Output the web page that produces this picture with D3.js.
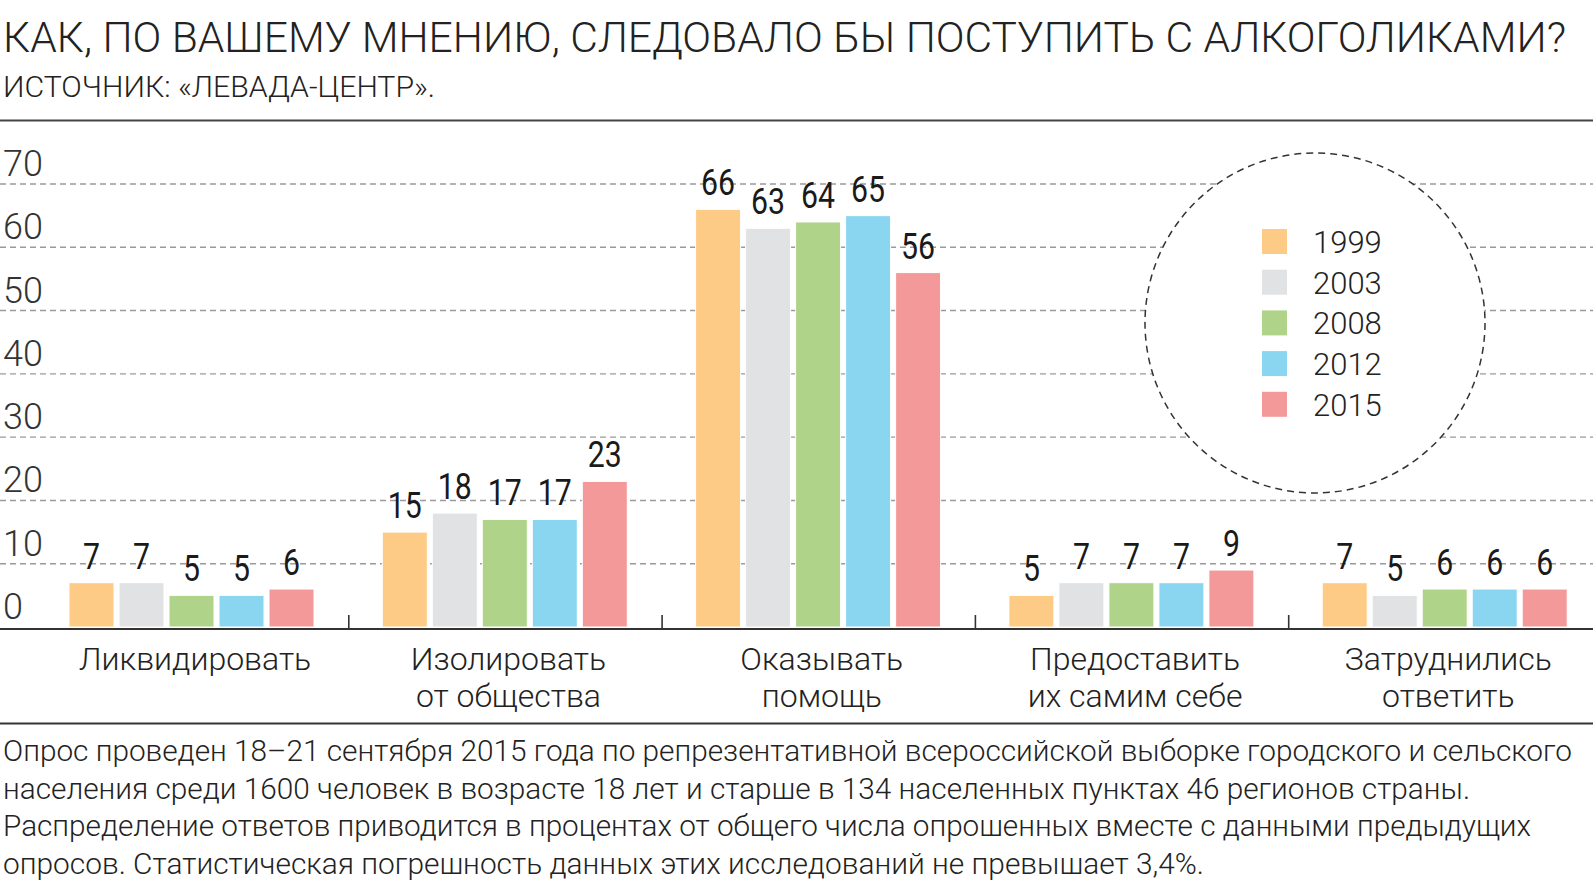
<!DOCTYPE html>
<html>
<head>
<meta charset="utf-8">
<script src="https://cdn.jsdelivr.net/npm/d3@7"></script>
<style>
  html, body { margin: 0; padding: 0; background: #fff; }
  svg { display: block; }
  .light { font-family: "Roboto Light", Roboto, "Noto Sans", sans-serif; font-weight: 300; }
  .num { font-family: "Liberation Sans Narrow", "Roboto", sans-serif; font-weight: 400; }
</style>
</head>
<body>
<svg id="chart" width="1593" height="895"></svg>
<script>
// ---------------- DATA ----------------
const title = "КАК, ПО ВАШЕМУ МНЕНИЮ, СЛЕДОВАЛО БЫ ПОСТУПИТЬ С АЛКОГОЛИКАМИ?";
const subtitle = "ИСТОЧНИК: «ЛЕВАДА-ЦЕНТР».";
const categories = ["Ликвидировать", "Изолировать от общества", "Оказывать помощь", "Предоставить их самим себе", "Затруднились ответить"];
const categoryLines = [["Ликвидировать"], ["Изолировать", "от общества"], ["Оказывать", "помощь"], ["Предоставить", "их самим себе"], ["Затруднились", "ответить"]];
const years = ["1999", "2003", "2008", "2012", "2015"];
const values1999 = [7, 15, 66, 5, 7];
const values2003 = [7, 18, 63, 7, 5];
const values2008 = [5, 17, 64, 7, 6];
const values2012 = [5, 17, 65, 7, 6];
const values2015 = [6, 23, 56, 9, 6];
const yTicks = [0, 10, 20, 30, 40, 50, 60, 70];
const colors = ["#fdcb85", "#e1e2e4", "#afd489", "#8ad6f0", "#f4999a"];
const footnote = [
  "Опрос проведен 18–21 сентября 2015 года по репрезентативной всероссийской выборке городского и сельского",
  "населения среди 1600 человек в возрасте 18 лет и старше в 134 населенных пунктах 46 регионов страны.",
  "Распределение ответов приводится в процентах от общего числа опрошенных вместе с данными предыдущих",
  "опросов. Статистическая погрешность данных этих исследований не превышает 3,4%."
];

const series = [values1999, values2003, values2008, values2012, values2015];

// ---------------- LAYOUT ----------------
const W = 1593, H = 895;
const svg = d3.select("#chart");

function fit(sel, width) {
  sel.each(function () {
    const w = this.getComputedTextLength();
    if (w > 0) d3.select(this).attr("textLength", width).attr("lengthAdjust", "spacingAndGlyphs");
  });
}

// Title & subtitle
svg.append("text").attr("class", "light").attr("x", 3).attr("y", 52)
  .attr("font-size", 42).attr("fill", "#222").text(title).call(fit, 1563);
svg.append("text").attr("class", "light").attr("x", 3).attr("y", 97)
  .attr("font-size", 29).attr("fill", "#222").text(subtitle).call(fit, 432);

svg.append("line").attr("x1", 0).attr("x2", W).attr("y1", 120.5).attr("y2", 120.5)
  .attr("stroke", "#444").attr("stroke-width", 2);

// Scales
const y = d3.scaleLinear().domain([0, 70]).range([627, 184]);
const x0 = d3.scaleBand().domain(categories).range([35.5, 35.5 + 5 * 313.3]).padding(0);
const x1 = d3.scaleBand().domain(years).range([33.5, 278.5]).paddingInner(0.1).paddingOuter(0);
const color = d3.scaleOrdinal().domain(years).range(colors);

// Gridlines
svg.append("g").selectAll("line").data(yTicks.filter(t => t > 0)).join("line")
  .attr("x1", 0).attr("x2", W)
  .attr("y1", d => y(d)).attr("y2", d => y(d))
  .attr("stroke", "#9a9a9a").attr("stroke-width", 1.4).attr("stroke-dasharray", "6,4");

// Y tick labels
svg.append("g").selectAll("text").data(yTicks).join("text")
  .attr("class", "light").attr("x", 3).attr("y", d => y(d) - 8)
  .attr("font-size", 36).attr("fill", "#333").text(d => d);

// Bars
const rows = categories.map((c, i) => ({ cat: c, vals: years.map((yr, j) => ({ year: yr, v: series[j][i] })) }));
const gGroups = svg.append("g").selectAll("g").data(rows).join("g")
  .attr("transform", d => `translate(${x0(d.cat)},0)`);

gGroups.selectAll("rect").data(d => d.vals).join("rect")
  .attr("x", d => x1(d.year)).attr("width", x1.bandwidth())
  .attr("y", d => y(d.v)).attr("height", d => y(0) - y(d.v))
  .attr("fill", d => color(d.year))
  .attr("stroke", "#fff").attr("stroke-width", 1);

gGroups.selectAll("text").data(d => d.vals).join("text")
  .attr("class", "num")
  .attr("x", d => x1(d.year) + x1.bandwidth() / 2)
  .attr("y", d => y(d.v) - 14)
  .attr("text-anchor", "middle").attr("font-size", 37).attr("fill", "#1a1a1a")
  .text(d => d.v)
  .each(function (d) {
    d3.select(this).attr("textLength", String(d.v).length * 17).attr("lengthAdjust", "spacingAndGlyphs");
  });

// Axis line
svg.append("line").attr("x1", 0).attr("x2", W).attr("y1", 629).attr("y2", 629)
  .attr("stroke", "#333").attr("stroke-width", 2);

// Separator ticks between groups
svg.append("g").selectAll("line").data(categories.slice(1)).join("line")
  .attr("x1", d => x0(d)).attr("x2", d => x0(d))
  .attr("y1", 615).attr("y2", 628)
  .attr("stroke", "#333").attr("stroke-width", 1.6);

// Category labels
const catG = svg.append("g").selectAll("text").data(categoryLines).join("text")
  .attr("class", "light").attr("font-size", 32).attr("fill", "#222")
  .attr("text-anchor", "middle")
  .attr("x", (d, i) => x0(categories[i]) + x0.bandwidth() / 2 + 3);
catG.selectAll("tspan").data(d => d).join("tspan")
  .attr("x", function () { return d3.select(this.parentNode).attr("x"); })
  .attr("y", (d, i) => 670 + i * 37)
  .text(d => d);

// Bottom rule
svg.append("line").attr("x1", 0).attr("x2", W).attr("y1", 723.5).attr("y2", 723.5)
  .attr("stroke", "#333").attr("stroke-width", 2);

// Footnote
const fnWidths = [1569, 1467, 1528, 1201];
svg.append("g").selectAll("text").data(footnote).join("text")
  .attr("class", "light").attr("x", 3).attr("y", (d, i) => 761 + i * 37.5)
  .attr("font-size", 29).attr("fill", "#222").text(d => d)
  .each(function (d, i) { d3.select(this).call(fit, fnWidths[i]); });

// Legend circle
svg.append("circle").attr("cx", 1315).attr("cy", 323).attr("r", 170)
  .attr("fill", "#fff").attr("stroke", "#333").attr("stroke-width", 1.5)
  .attr("stroke-dasharray", "7,5");

const leg = svg.append("g").selectAll("g").data(years).join("g")
  .attr("transform", (d, i) => `translate(1262,${229 + i * 40.7})`);
leg.append("rect").attr("width", 25).attr("height", 25).attr("fill", d => color(d));
leg.append("text").attr("class", "light").attr("x", 51).attr("y", 24)
  .attr("font-size", 31).attr("fill", "#222").text(d => d);
</script>
</body>
</html>
